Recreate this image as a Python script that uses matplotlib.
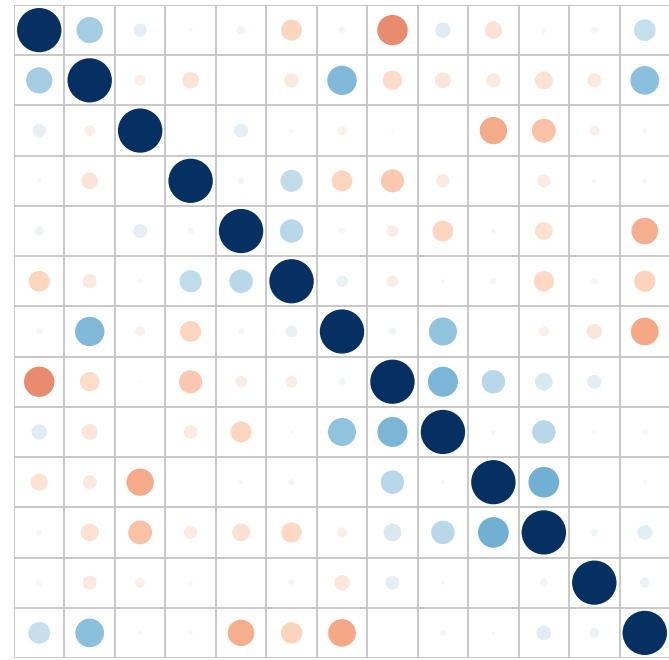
import numpy as np
import matplotlib

matplotlib.use("Agg")
import matplotlib.pyplot as plt
from matplotlib.patches import Circle

n_vars = 13

# upper triangle of the correlation matrix, row by row (i < j)
upper_rows = [
    [0.35, 0.09, 0.01, 0.04, -0.22, 0.02, -0.47, 0.12, -0.15, -0.02, 0.02, 0.24],
    [-0.06, -0.14, 0.0, -0.10, 0.44, -0.19, -0.13, -0.10, -0.16, -0.10, 0.42],
    [0.0, 0.10, 0.01, -0.05, 0.005, 0.0, -0.38, -0.29, -0.05, -0.01],
    [0.02, 0.25, -0.22, -0.27, -0.09, 0.0, -0.09, -0.01, -0.01],
    [0.28, 0.02, -0.07, -0.22, -0.01, -0.16, 0.0, -0.36],
    [0.07, -0.07, 0.01, 0.02, -0.21, -0.02, -0.23],
    [0.03, 0.40, 0.0, -0.05, -0.12, -0.39],
    [0.46, 0.28, 0.16, 0.10, 0.0],
    [0.01, 0.28, 0.01, -0.02],
    [0.48, 0.0, 0.005],
    [0.03, 0.11],
    [0.05],
]


def build_matrix() -> np.ndarray:
    corr = np.eye(n_vars)
    for i, row in enumerate(upper_rows):
        for k, val in enumerate(row):
            j = i + 1 + k
            corr[i, j] = val
            corr[j, i] = val
    return corr


def main() -> None:
    corr = build_matrix()
    cmap = plt.get_cmap("RdBu")

    fig = plt.figure(figsize=(6.69, 6.60), dpi=100)
    ax = fig.add_axes([14 / 669, 2 / 660, 656 / 669, 653 / 660])
    ax.set_xlim(0, n_vars)
    ax.set_ylim(n_vars, 0)

    for k in range(n_vars + 1):
        ax.axhline(k, color="#c4c4c4", linewidth=1.3, zorder=1)
        if k < n_vars:
            ax.axvline(k, color="#c4c4c4", linewidth=1.3, zorder=1)

    for i in range(n_vars):
        for j in range(n_vars):
            r = corr[i, j]
            radius = 0.44 * np.sqrt(abs(r))
            if radius <= 0:
                continue
            color = cmap((r + 1) / 2)
            ax.add_patch(Circle((j + 0.5, i + 0.5), radius, facecolor=color,
                                edgecolor="none", zorder=2))

    ax.set_xticks([])
    ax.set_yticks([])
    for spine in ax.spines.values():
        spine.set_visible(False)

    fig.savefig("out.png", dpi=100, facecolor="white")
    plt.close(fig)


if __name__ == "__main__":
    main()
